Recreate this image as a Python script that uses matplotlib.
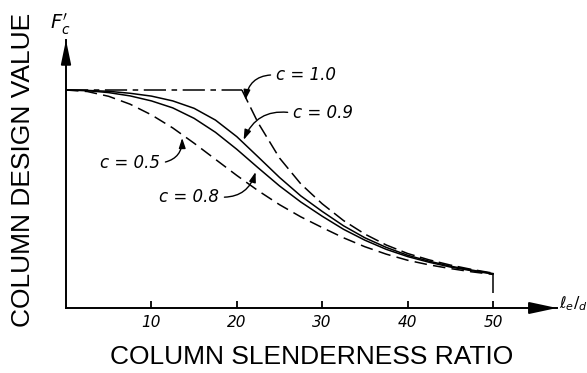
import matplotlib
matplotlib.use("Agg")
import matplotlib.pyplot as plt

plt.rcParams['lines.scale_dashes'] = False

# slenderness ratio le/d and column stability curves
slenderness = [0, 2.5, 5, 7.5, 10, 12.5, 15, 17.5, 20, 22.5, 25,
               27.5, 30, 32.5, 35, 37.5, 40, 42.5, 45, 47.5, 50]
c_09 = [1.0, 0.998, 0.994, 0.985, 0.972, 0.950, 0.916, 0.862, 0.786, 0.693, 0.599,
        0.514, 0.443, 0.377, 0.322, 0.278, 0.242, 0.215, 0.192, 0.174, 0.158]
c_08 = [1.0, 0.997, 0.988, 0.973, 0.950, 0.918, 0.870, 0.806, 0.728, 0.643, 0.560,
        0.486, 0.421, 0.361, 0.311, 0.269, 0.236, 0.210, 0.188, 0.171, 0.156]
c_05 = [1.0, 0.993, 0.971, 0.935, 0.886, 0.826, 0.756, 0.682, 0.608, 0.538, 0.474,
        0.418, 0.369, 0.322, 0.281, 0.247, 0.219, 0.198, 0.181, 0.166, 0.154]

# c = 1.0 : flat plateau then Euler curve
flat_l = [0, 20.6]
flat_v = [1.0, 1.0]
euler_l = [20.6, 22.5, 25, 27.5, 30, 32.5, 35, 37.5, 40, 42.5, 45, 47.5, 50]
euler_v = [1.0, 0.849, 0.688, 0.569, 0.478, 0.401, 0.339, 0.289, 0.250,
           0.221, 0.197, 0.177, 0.160]

tick_vals = [10, 20, 30, 40, 50]
tick_labels = ["10", "20", "30", "40", "50"]

W, H = 587, 373
fig = plt.figure(figsize=(W / 100, H / 100), dpi=100)
ax = fig.add_axes([66 / W, 65 / H, 491 / W, 268 / H])
ax.set_xlim(0, 491 / 8.54)
ax.set_ylim(0, 268 / 218)

lw = 1.1
ax.plot(flat_l, flat_v, color='black', lw=lw, dashes=(16, 4, 4, 4))
ax.plot(euler_l, euler_v, color='black', lw=lw, dashes=(10, 4))
ax.plot(slenderness, c_09, color='black', lw=lw)
ax.plot(slenderness, c_08, color='black', lw=lw)
ax.plot(slenderness, c_05, color='black', lw=lw, dashes=(9, 4.5))
# cutoff at le/d = 50
ax.vlines(euler_l[-1], 0.07, euler_v[-1], color='black', lw=lw)

# axes styling
for s in ['top', 'right']:
    ax.spines[s].set_visible(False)
for s in ['left', 'bottom']:
    ax.spines[s].set_linewidth(1.4)
ax.set_yticks([])
ax.set_xticks(tick_vals)
ax.set_xticklabels(tick_labels, fontstyle='italic', fontsize=11)
ax.tick_params(axis='x', direction='in', length=5, width=1.3, pad=5)

# arrow heads on the axes
ax.annotate('', xy=(1, 0), xytext=(0.95, 0), xycoords='axes fraction',
            arrowprops=dict(arrowstyle='-|>,head_length=1.4,head_width=0.3',
                            mutation_scale=12, color='black', lw=1.4, shrinkA=0, shrinkB=0),
            annotation_clip=False)
ax.annotate('', xy=(0, 1), xytext=(0, 0.93), xycoords='axes fraction',
            arrowprops=dict(arrowstyle='-|>,head_length=1.2,head_width=0.25',
                            mutation_scale=12, color='black', lw=1.4, shrinkA=0, shrinkB=0),
            annotation_clip=False)

# curve labels with curved leaders
lbl = dict(fontsize=12, fontstyle='italic', va='center')
arr = dict(arrowstyle='-|>,head_length=0.6,head_width=0.2', mutation_scale=10,
           color='black', lw=1.0, shrinkA=2, shrinkB=0)
ax.annotate('c = 1.0', xy=(21.0, 0.954), xytext=(24.6, 1.069), ha='left',
            arrowprops=dict(arr, connectionstyle='arc3,rad=0.45', relpos=(0, 0.5)), **lbl)
ax.annotate('c = 0.9', xy=(20.8, 0.771), xytext=(26.6, 0.894), ha='left',
            arrowprops=dict(arr, connectionstyle='arc3,rad=0.4', relpos=(0, 0.5)), **lbl)
ax.annotate('c = 0.5', xy=(13.6, 0.78), xytext=(11.0, 0.665), ha='right',
            arrowprops=dict(arr, connectionstyle='arc3,rad=0.45', relpos=(1, 0.5)), **lbl)
ax.annotate('c = 0.8', xy=(22.2, 0.624), xytext=(17.9, 0.509), ha='right',
            arrowprops=dict(arr, connectionstyle='arc3,rad=0.4', relpos=(1, 0.5)), **lbl)

# axis symbols and titles
fig.text(60 / W, 1 - 24 / H, r"$F_c'$", fontsize=14, ha='center', va='center')
fig.text(559 / W, 1 - 304 / H, r"$\ell_e/_d$", fontsize=11.5, ha='left', va='center')
fig.text(311.5 / W, 1 - 357 / H, "COLUMN SLENDERNESS RATIO", fontsize=19,
         family='Liberation Sans', ha='center', va='center')
fig.text(23 / W, 1 - 170 / H, "COLUMN DESIGN VALUE", fontsize=19, rotation=90,
         family='Liberation Sans', ha='center', va='center')

fig.savefig("out.png", dpi=100, facecolor='white')
